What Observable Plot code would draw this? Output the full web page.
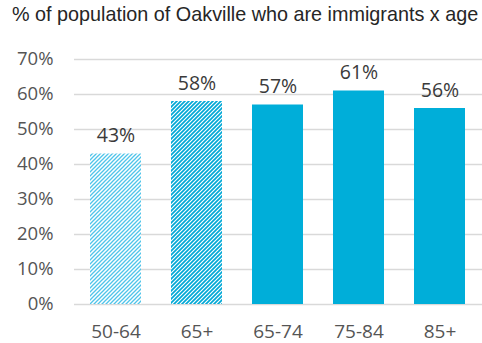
<!DOCTYPE html>
<html><head><meta charset="utf-8">
<script src="https://cdn.jsdelivr.net/npm/d3@7"></script>
<script src="https://cdn.jsdelivr.net/npm/@observablehq/plot@0.6"></script>
<style>
body{margin:0;background:#fff;}
#title{font-family:"Liberation Sans",Arial,sans-serif;font-size:19.8px;color:#262626;height:30px;line-height:28px;padding-left:12px;white-space:nowrap;}
#chart svg{display:block;}
</style></head><body>
<div id="title">% of population of Oakville who are immigrants x age</div>
<div id="chart"></div>
<script>
const ages = ["50-64", "65+", "65-74", "75-84", "85+"];
const pct = [43, 58, 57, 61, 56];
const yTicks = [0, 10, 20, 30, 40, 50, 60, 70];

const data = ages.map((a, i) => ({age: a, value: pct[i]}));
const fillFor = {"50-64": "url(#hatchLight)", "65+": "url(#hatchDark)"};
const solid = "#00AED9";

const svg = Plot.plot({
  width: 482,
  height: 313,
  marginLeft: 74,
  marginRight: 0,
  marginTop: 29,
  marginBottom: 39,
  style: {fontFamily: "'Open Sans', sans-serif", fontSize: "18.5px", color: "#555555", background: "#fff"},
  color: {type: "identity"},
  x: {domain: ages, paddingInner: 0.366, paddingOuter: 0.183, label: null},
  y: {domain: [0, 70], label: null},
  marks: [
    Plot.ruleY(yTicks, {stroke: "#d9d9d9", strokeWidth: 1.5}),
    Plot.barY(data, {x: "age", y: "value", fill: d => fillFor[d.age] ?? solid}),
    Plot.text(data, {x: "age", y: "value", text: d => d.value + "%", dy: -12, lineAnchor: "bottom", fontSize: 19.5, fill: "#3a3a3a"}),
    Plot.axisY({ticks: yTicks, tickSize: 0, tickPadding: 21, tickFormat: d => d + "%", label: null}),
    Plot.axisX({tickSize: 0, tickPadding: 20, fontSize: 19, label: null})
  ]
});

const defs = d3.select(svg).insert("defs", ":first-child");
function hatch(id, color, w) {
  const p = defs.append("pattern").attr("id", id).attr("patternUnits", "userSpaceOnUse")
    .attr("width", 4).attr("height", 4);
  p.append("rect").attr("width", 4).attr("height", 4).attr("fill", "#fff");
  p.append("path").attr("d", "M-1,1 l2,-2 M0,4 l4,-4 M3,5 l2,-2")
    .attr("stroke", color).attr("stroke-width", w);
}
hatch("hatchLight", "#4FC4EA", 1.3);
hatch("hatchDark", "#00A8D6", 1.7);

document.getElementById("chart").appendChild(svg);
</script>
</body></html>
